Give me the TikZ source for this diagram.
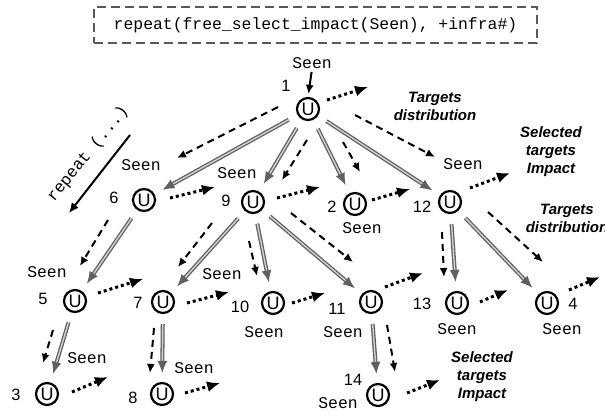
\documentclass[tikz,border=0pt]{standalone}
\usepackage{fontspec}
\setmainfont{Liberation Sans}
\setmonofont{Liberation Mono}
\usetikzlibrary{arrows.meta}

\begin{document}
\begin{tikzpicture}[x=0.5pt, y=-0.5pt,
    unit/.style={circle, draw, line width=1.1pt, minimum size=11pt, inner sep=0pt,
        font=\fontsize{9}{9}\selectfont},
    seen/.style={font=\ttfamily\fontsize{8.2}{9}\selectfont, inner sep=0pt},
    num/.style={font=\fontsize{8.2}{9}\selectfont, inner sep=0pt},
    note/.style={font=\bfseries\itshape\fontsize{7.5}{9}\selectfont, align=center, inner sep=0pt},
    tree/.style={draw=gray!75!black, double=gray!35, double distance=0.7pt, line width=0.65pt,
        -{Latex[length=6pt,width=5pt]}, shorten <=5pt, shorten >=4.5pt},
    msg/.style={line width=1pt, dash pattern=on 3.5pt off 2.5pt, -{Latex[length=4.5pt,width=4pt]}},
    flow/.style={line width=1.5pt, dash pattern=on 1.5pt off 1.5pt, -{Latex[length=6.5pt,width=5.5pt]}}]

    \useasboundingbox (0,0) rectangle (605,412);

    \node[draw=gray!70!black, line width=1pt, dash pattern=on 4.5pt off 2.5pt,
        minimum width=221.5pt, minimum height=18pt, inner sep=0pt,
        font=\ttfamily\fontsize{8.2}{9}\selectfont] (cmd) at (315.5,25)
        {repeat(free\_select\_impact(Seen), +infra\#)};

    \node[unit] (n1) at (308,109) {U};
    \node[unit] (n6) at (144,200) {U};
    \node[unit] (n9) at (253,202) {U};
    \node[unit] (n2) at (355,204) {U};
    \node[unit] (n12) at (450,202) {U};
    \node[unit] (n5) at (75,301) {U};
    \node[unit] (n7) at (163,302) {U};
    \node[unit] (n10) at (273,303) {U};
    \node[unit] (n11) at (371,302) {U};
    \node[unit] (n13) at (457,303) {U};
    \node[unit] (n4) at (547,303) {U};
    \node[unit] (n3) at (47,394) {U};
    \node[unit] (n8) at (162,394) {U};
    \node[unit] (n14) at (378,395) {U};

    \node[num] (l1) at (286,86) {1};
    \node[num] (l6) at (114,198) {6};
    \node[num] (l9) at (226,201) {9};
    \node[num] (l2) at (332,207) {2};
    \node[num] (l12) at (422,207) {12};
    \node[num] (l5) at (43,299) {5};
    \node[num] (l7) at (138,303) {7};
    \node[num] (l10) at (240,307) {10};
    \node[num] (l11) at (337,309) {11};
    \node[num] (l13) at (422,304) {13};
    \node[num] (l4) at (573,304) {4};
    \node[num] (l3) at (16,395) {3};
    \node[num] (l8) at (133,398) {8};
    \node[num] (l14) at (353,380) {14};

    \node[seen] (s1) at (312,63) {Seen};
    \node[seen] (s6) at (141,165) {Seen};
    \node[seen] (s9) at (237,173) {Seen};
    \node[seen] (s2) at (362,228) {Seen};
    \node[seen] (s12) at (463,164) {Seen};
    \node[seen] (s5) at (47,272) {Seen};
    \node[seen] (s7) at (222,274) {Seen};
    \node[seen] (s10) at (264,332) {Seen};
    \node[seen] (s11) at (343,332) {Seen};
    \node[seen] (s13) at (457,329) {Seen};
    \node[seen] (s4) at (562,329) {Seen};
    \node[seen] (s3) at (87,358) {Seen};
    \node[seen] (s8) at (194,368) {Seen};
    \node[seen] (s14) at (338,403) {Seen};

    \node[note] (td1) at (435,106) {Targets\\distribution};
    \node[note] (si1) at (551,152) {Selected\\targets\\Impact};
    \node[note] (td2) at (567,218) {Targets\\distribution};
    \node[note] (si2) at (482,377) {Selected\\targets\\Impact};

    \node[seen, rotate=51] (rep) at (88,154) {repeat (...)};
    \coordinate (rtop) at (130,135);
    \coordinate (rbot) at (69,213);
    \draw[line width=1pt, -{Latex[length=5pt,width=4.5pt]}] (rtop) -- (rbot);

    \draw[line width=1pt, -{Latex[length=4.5pt,width=4pt]}, shorten <=1.5pt, shorten >=1.5pt]
        (s1.south) -- (n1.north);

    \draw[tree] (n1) -- (n6);
    \draw[tree] (n1) -- (n9);
    \draw[tree] (n1) -- (n2);
    \draw[tree] (n1) -- (n12);
    \draw[tree] (n6) -- (n5);
    \draw[tree] (n5) -- (n3);
    \draw[tree] (n9) -- (n7);
    \draw[tree] (n9) -- (n10);
    \draw[tree] (n9) -- (n11);
    \draw[tree] (n7) -- (n8);
    \draw[tree] (n12) -- (n13);
    \draw[tree] (n12) -- (n4);
    \draw[tree] (n11) -- (n14);

    \draw[msg] ([shift={(-30,-2)}]n1.center) -- ([shift={(33,-42)}]n6.center);
    \draw[msg] ([shift={(-1,31)}]n1.center) -- ([shift={(29,-22)}]n9.center);
    \draw[msg] ([shift={(35,33)}]n1.center) -- ([shift={(5,-32)}]n2.center);
    \draw[msg] ([shift={(47,6)}]n1.center) -- ([shift={(-15,-45)}]n12.center);
    \draw[msg] ([shift={(-36,20)}]n6.center) -- ([shift={(5,-35)}]n5.center);
    \draw[msg] ([shift={(-22,29)}]n5.center) -- ([shift={(-4,-31)}]n3.center);
    \draw[msg] ([shift={(-41,21)}]n9.center) -- ([shift={(15,-35)}]n7.center);
    \draw[msg] ([shift={(-4,39)}]n9.center) -- ([shift={(-16,-27)}]n10.center);
    \draw[msg] ([shift={(38,11)}]n9.center) -- ([shift={(-18,-40)}]n11.center);
    \draw[msg] ([shift={(-9,26)}]n7.center) -- ([shift={(-12,-21)}]n8.center);
    \draw[msg] ([shift={(-8,30)}]n12.center) -- ([shift={(-13,-26)}]n13.center);
    \draw[msg] ([shift={(38,10)}]n12.center) -- ([shift={(-4,-41)}]n4.center);
    \draw[msg] ([shift={(16,23)}]n11.center) -- ([shift={(17,-23)}]n14.center);

    \draw[flow] ([shift={(19,-9)}]n1.center) -- ([shift={(60,-22)}]n1.center);
    \draw[flow] ([shift={(26,-2)}]n6.center) -- ([shift={(71,-13)}]n6.center);
    \draw[flow] ([shift={(24,-4)}]n9.center) -- ([shift={(67,-15)}]n9.center);
    \draw[flow] ([shift={(17,-4)}]n2.center) -- ([shift={(55,-15)}]n2.center);
    \draw[flow] ([shift={(20,-14)}]n12.center) -- ([shift={(60,-29)}]n12.center);
    \draw[flow] ([shift={(23,-8)}]n5.center) -- ([shift={(68,-22)}]n5.center);
    \draw[flow] ([shift={(24,1)}]n7.center) -- ([shift={(66,-10)}]n7.center);
    \draw[flow] ([shift={(19,0)}]n10.center) -- ([shift={(52,-10)}]n10.center);
    \draw[flow] ([shift={(14,-15)}]n11.center) -- ([shift={(52,-29)}]n11.center);
    \draw[flow] ([shift={(23,-1)}]n13.center) -- ([shift={(51,-13)}]n13.center);
    \draw[flow] ([shift={(22,-13)}]n4.center) -- ([shift={(53,-26)}]n4.center);
    \draw[flow] ([shift={(25,-2)}]n3.center) -- ([shift={(61,-17)}]n3.center);
    \draw[flow] ([shift={(23,-1)}]n8.center) -- ([shift={(58,-11)}]n8.center);
    \draw[flow] ([shift={(29,-2)}]n14.center) -- ([shift={(62,-15)}]n14.center);
\end{tikzpicture}
\end{document}
